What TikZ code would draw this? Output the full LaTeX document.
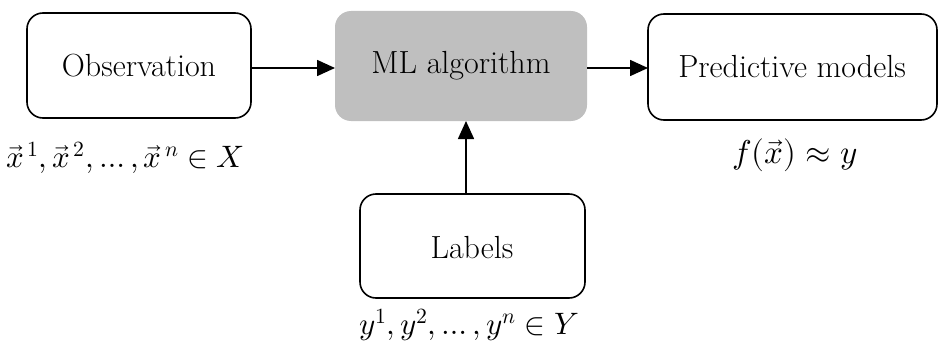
\documentclass[tikz,border=0pt]{standalone}
\usepackage{fontspec}
\usepackage{unicode-math}
\usetikzlibrary{arrows.meta}
\begin{document}
\begin{tikzpicture}[x=1pt,y=-1pt,
  box/.style={draw=black,line width=1.6pt,rounded corners=16pt,fill=white},
  mlbox/.style={fill=black!25,rounded corners=16pt},
  lbl/.style={font=\fontsize{32}{38}\selectfont},
  mth/.style={font=\fontsize{31}{36}\selectfont},
  conn/.style={line width=1.6pt,-{Triangle[length=18pt,width=16pt]}}]
\useasboundingbox (0,0) rectangle (939,345);
\draw[box] (27,13) rectangle (251,118);
\node[lbl] (obs) at (139,66) {Observation};
\coordinate (obsR) at (251,68);
\fill[mlbox] (335,11) rectangle (587,121);
\node[lbl] (ml) at (461,66) {ML algorithm};
\coordinate (mlL) at (335,68);
\coordinate (mlR) at (587,68);
\coordinate (mlB) at (466,121);
\draw[box] (648,14) rectangle (937,120);
\node[lbl] (pred) at (792,67) {Predictive models};
\coordinate (predL) at (648,68);
\draw[box] (360,194) rectangle (585,298);
\node[lbl] (lab) at (472,248) {Labels};
\coordinate (labT) at (466,194);
\draw[conn] (obsR) -- (mlL);
\draw[conn] (mlR) -- (predL);
\draw[conn] (labT) -- (mlB);
\node[mth] (xs) at (125,158) {$\vec{x}^{\,1},\vec{x}^{\,2},\dots,\vec{x}^{\,n}\in X$};
\node[mth,font=\fontsize{33}{38}\selectfont] (fx) at (795,155) {$f(\vec{x})\approx y$};
\node[mth] (ys) at (469,325) {$y^{1},y^{2},\dots,y^{n}\in Y$};
\end{tikzpicture}
\end{document}
